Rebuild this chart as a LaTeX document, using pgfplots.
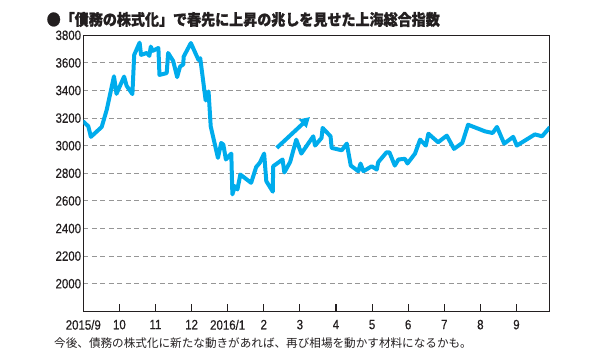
\documentclass[border=0pt]{standalone}
\usepackage{fontspec}
\usepackage{pgfplots}
\pgfplotsset{compat=1.18}
\usetikzlibrary{arrows.meta}
\newfontfamily\cjk{Noto Sans CJK JP}
\newfontfamily\cjkt{Noto Sans CJK JP}[FakeStretch=0.9, BoldFeatures={FakeBold=1.3}]
\newfontfamily\numfont{Liberation Sans}[FakeStretch=0.85, FakeBold=0.5]
\definecolor{linec}{RGB}{0,172,236}
\definecolor{gridc}{RGB}{150,150,150}
\definecolor{txt}{RGB}{35,31,32}
\begin{document}
\begin{tikzpicture}
\path[use as bounding box] (0,0) rectangle (600pt,-354pt);
\node[anchor=west, inner sep=0pt, text=txt] at (46.5pt,-19.5pt) {\cjkt\bfseries\fontsize{15.6}{16}\selectfont ●「債務の株式化」で春先に上昇の兆しを見せた上海総合指数};
\node[anchor=west, inner sep=0pt, text=txt] at (54pt,-343pt) {\cjk\fontsize{11.6}{12}\selectfont 今後、債務の株式化に新たな動きがあれば、再び相場を動かす材料になるかも。};
\begin{axis}[at={(83.3pt,-311.3pt)}, anchor=south west, scale only axis,
  width=466pt, height=276pt,
  xmin=0, xmax=12.91, ymin=1800, ymax=3800,
  xtick={0,...,12}, xticklabels={2015/9,10,11,12,2016/1,2,3,4,5,6,7,8,9},
  ytick={2000,2200,...,3800},
  ymajorgrids, grid style={gridc, dash pattern=on 5pt off 3.5pt, line width=0.9pt},
  axis line style={line width=1.1pt, txt},
  tick align=inside, xtick pos=bottom, major tick length=7pt,
  xtick style={line width=1.1pt, txt},
  ytick style={draw=none},
  tick label style={font=\numfont\fontsize{13.5}{14}\selectfont, text=txt},
  /pgf/number format/assume math mode=true,
  /pgf/number format/set thousands separator={},
  xticklabel style={yshift=-5pt},
  yticklabel style={inner xsep=2pt},
]
\addplot[linec, line width=4pt, line join=round, line cap=round] coordinates {
(0.006,3174) (0.14,3140) (0.21,3064) (0.51,3136) (0.65,3261) (0.85,3503) (0.92,3376)
(1.13,3501) (1.20,3434) (1.36,3374) (1.41,3658) (1.56,3747) (1.60,3658) (1.76,3672)
(1.83,3651) (1.87,3718) (1.92,3687) (2.08,3708) (2.11,3513) (2.31,3526) (2.35,3672)
(2.49,3614) (2.60,3497) (2.68,3573) (2.77,3589) (2.78,3645) (2.98,3744) (3.19,3622)
(3.24,3634) (3.39,3328) (3.47,3393) (3.53,3140) (3.73,2912) (3.82,3020) (3.88,3008)
(3.95,2900) (4.10,2943) (4.13,2647) (4.20,2707) (4.27,2683) (4.35,2791) (4.65,2731)
(4.79,2846) (4.89,2876) (5.01,2943) (5.07,2743) (5.25,2667) (5.26,2851) (5.52,2900)
(5.57,2806) (5.73,2882) (5.90,3044) (6.04,2943) (6.37,3068) (6.42,3001) (6.60,3056)
(6.63,3129) (6.85,3068) (6.88,2984) (7.16,2967) (7.30,3015) (7.41,2856) (7.62,2815)
(7.68,2871) (7.76,2815) (7.99,2851) (8.13,2827) (8.17,2880) (8.40,2952) (8.48,2952)
(8.63,2856) (8.73,2900) (8.91,2905) (8.98,2871) (9.19,2943) (9.33,3044) (9.49,3001)
(9.56,3087) (9.83,3025) (10.07,3073) (10.27,2977) (10.50,3020) (10.66,3152) (11.13,3104)
(11.34,3092) (11.46,3136) (11.66,3015) (11.91,3064) (12.01,3001) (12.51,3082) (12.71,3068)
(12.91,3129)
};
\addplot[linec, line width=4pt, -{Triangle[length=10pt,width=11pt]}] coordinates {(5.36,2984) (6.28,3208)};
\end{axis}
\end{tikzpicture}
\end{document}
